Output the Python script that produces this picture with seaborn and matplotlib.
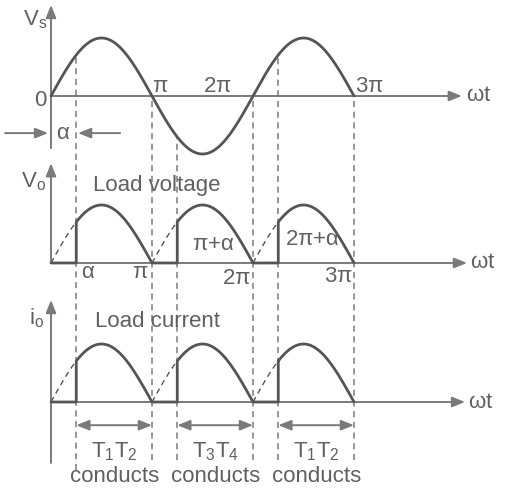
import numpy as np
import pandas as pd
import matplotlib
matplotlib.use('Agg')
import matplotlib.pyplot as plt
import seaborn as sns

sns.set_style('white')
plt.rcParams['font.family'] = ['Liberation Sans', 'DejaVu Sans']
plt.rcParams['mathtext.fontset'] = 'custom'
plt.rcParams['mathtext.rm'] = 'Liberation Sans'
plt.rcParams['mathtext.it'] = 'Liberation Sans'

pi = np.pi
alpha = pi / 4  # firing angle

# firing angles and zero crossings along wt
fire_angles = [alpha, pi + alpha, 2 * pi + alpha]
zero_angles = [pi, 2 * pi, 3 * pi]
end_angle = 3 * pi

# tick-like labels (text, x, y relative to the panel zero line)
top_labels = [('0', -0.34, -0.07), (r'$\pi$', 3.39, 0.16),
              (r'$2\pi$', 5.19, 0.16), (r'$3\pi$', 9.89, 0.16)]
mid_labels = [(r'$\alpha$', 1.15, -0.17), (r'$\pi$', 2.77, -0.17),
              (r'$\pi$+$\alpha$', 5.04, 0.31), (r'$2\pi$', 5.75, -0.26),
              (r'$2\pi$+$\alpha$', 8.12, 0.40), (r'$3\pi$', 8.93, -0.24)]
conduct_labels = [r'$\mathrm{T_1T_2}$', r'$\mathrm{T_3T_4}$', r'$\mathrm{T_1T_2}$']

# panel layout (vertical offsets of the three zero lines)
off_top, off_mid, off_bot = 0.0, -2.879, -5.276
curve_c = '#555555'
axis_c = '#7a7a7a'
text_c = '#606060'

# supply voltage
t = np.linspace(0, end_angle, 500)
vs = np.sin(t)

# rectified output: solid conducting part and dashed non-conducting part
solid_x, solid_y, dash_rows = [], [], []
for k, fire in enumerate(fire_angles):
    start = k * pi
    on = np.linspace(fire, zero_angles[k], 120)
    solid_x += [start, fire, fire] + list(on)
    solid_y += [0, 0, np.sin(alpha)] + list(np.abs(np.sin(on)))
    off = np.linspace(start, fire, 40)
    for xx in off:
        dash_rows.append((xx, abs(np.sin(xx)), k))
solid_x = np.array(solid_x)
solid_y = np.array(solid_y)

rows = [(x, y + off_top, 'vs') for x, y in zip(t, vs)]
rows += [(x, y + off_mid, 'vo') for x, y in zip(solid_x, solid_y)]
rows += [(x, y + off_bot, 'io') for x, y in zip(solid_x, solid_y)]
solid_df = pd.DataFrame(rows, columns=['wt', 'y', 'seg'])

drows = []
for off, name in [(off_mid, 'vo'), (off_bot, 'io')]:
    for x, y, k in dash_rows:
        drows.append((x, y + off, f'{name}{k}'))
dash_df = pd.DataFrame(drows, columns=['wt', 'y', 'seg'])

fig = plt.figure(figsize=(5.05, 4.94), dpi=100)
ax = fig.add_axes([0, 0, 1, 1])
ax.set_xlim(-1.586, 14.12)
ax.set_ylim(-6.862, 1.655)
ax.axis('off')


def arrow(x0, y0, x1, y1, style='-|>'):
    ax.annotate('', xy=(x1, y1), xytext=(x0, y0),
                arrowprops=dict(arrowstyle=style + ',head_length=0.55,head_width=0.22',
                                mutation_scale=14, color=axis_c, lw=1.4,
                                shrinkA=0, shrinkB=0))


# dashed guide lines
guide_bottom = -6.28
for a in fire_angles:
    ax.vlines(a, guide_bottom if a != alpha else -6.45, np.sin(a) + off_top,
              colors=axis_c, lw=1.1, linestyles=(0, (4, 3)), zorder=1)
for a in zero_angles:
    ax.vlines(a, guide_bottom, off_top, colors=axis_c, lw=1.1,
              linestyles=(0, (4, 3)), zorder=1)

# axes of the three panels
arrow(0, off_top - 0.90, 0, off_top + 1.57)
arrow(0, off_top, 12.78, off_top)
arrow(0, off_mid, 0, off_mid + 1.72)
arrow(0, off_mid, 12.94, off_mid)
arrow(0, off_bot - 1.05, 0, off_bot + 1.76)
arrow(0, off_bot, 12.88, off_bot)

# curves
sns.lineplot(data=solid_df, x='wt', y='y', units='seg', estimator=None,
             sort=False, color=curve_c, lw=2.0, ax=ax, zorder=3)
sns.lineplot(data=dash_df, x='wt', y='y', units='seg', estimator=None,
             sort=False, color=curve_c, lw=1.0, ax=ax, zorder=3,
             linestyle=(0, (4, 3)))
ax.set_xlim(-1.586, 14.12)
ax.set_ylim(-6.862, 1.655)
ax.axis('off')

fs = 16
tk = dict(color=text_c, fontsize=fs, ha='center', va='center')

# top panel text
ax.text(-0.50, off_top + 1.31, r'$\mathrm{V_s}$', **tk)
for s, x, y in top_labels:
    ax.text(x, off_top + y, s, **tk)
ax.text(13.31, off_top, r'$\omega$t', **tk)
arrow(-1.43, off_top - 0.64, -0.09, off_top - 0.64)
arrow(2.15, off_top - 0.64, 0.84, off_top - 0.64)
ax.text(0.37, off_top - 0.64, r'$\alpha$', **tk)

# middle panel text
ax.text(-0.55, off_mid + 1.40, r'$\mathrm{V_o}$', **tk)
ax.text(3.30, off_mid + 1.34, 'Load voltage', **tk)
for s, x, y in mid_labels:
    ax.text(x, off_mid + y, s, **tk)
ax.text(13.44, off_mid, r'$\omega$t', **tk)

# bottom panel text
ax.text(-0.45, off_bot + 1.45, r'$\mathrm{i_o}$', **tk)
ax.text(3.32, off_bot + 1.38, 'Load current', **tk)
ax.text(13.37, off_bot, r'$\omega$t', **tk)
for fire, zero, lab in zip(fire_angles, zero_angles, conduct_labels):
    arrow(fire, off_bot - 0.40, zero, off_bot - 0.40, style='<|-|>')
    mid = (fire + zero) / 2
    ax.text(mid, off_bot - 0.86, lab, **tk)
    ax.text(mid, off_bot - 1.29, 'conducts', **tk)

fig.savefig('out.png', dpi=100)
